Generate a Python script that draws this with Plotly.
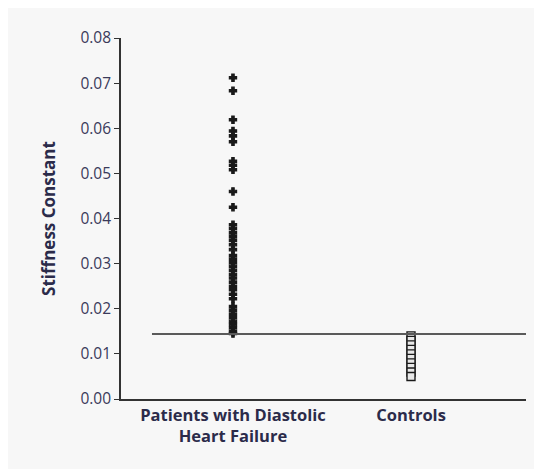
import plotly.graph_objects as go

categories = ["Patients with Diastolic<br>Heart Failure", "Controls"]
cat_pos = [1, 2]

patients = [0.0712, 0.0683, 0.0619, 0.0594, 0.0583, 0.0570, 0.0527, 0.0518, 0.0508,
            0.0460, 0.0425, 0.0386, 0.0378, 0.0369, 0.0361, 0.0352, 0.0342, 0.0331,
            0.0318, 0.0310, 0.0302, 0.0294, 0.0285, 0.0276, 0.0268, 0.0259, 0.0250,
            0.0242, 0.0232, 0.0222, 0.0205, 0.0197, 0.0188, 0.0180, 0.0172, 0.0165,
            0.0158, 0.0150, 0.0145]
controls = [0.0140, 0.0130, 0.0120, 0.0110, 0.0100, 0.0090, 0.0080, 0.0070,
            0.0060, 0.0050]
threshold = 0.0144

y_ticks = [0.00, 0.01, 0.02, 0.03, 0.04, 0.05, 0.06, 0.07, 0.08]
y_tick_text = ["%.2f" % v for v in y_ticks]

fig = go.Figure()
fig.add_trace(go.Scatter(
    x=[cat_pos[0]] * len(patients), y=patients, mode="markers",
    marker=dict(symbol="cross", size=6, color="#1a1a1a",
                line=dict(color="#1a1a1a", width=1.2)),
    showlegend=False, cliponaxis=False))
fig.add_trace(go.Scatter(
    x=[cat_pos[1]] * len(controls), y=controls, mode="markers",
    marker=dict(symbol="square", size=8, color="#e8e8e8",
                line=dict(color="#1a1a1a", width=1.4)),
    showlegend=False, cliponaxis=False))

# threshold line
fig.add_shape(type="line", xref="x", yref="y", x0=0.545, x1=2.646,
              y0=threshold, y1=threshold, line=dict(color="#5a5a5a", width=1.8))

font_fam = "Open Sans, sans-serif"
fig.update_layout(
    width=542, height=469,
    margin=dict(l=113, r=24, t=30, b=78),
    paper_bgcolor="#f7f7f7", plot_bgcolor="rgba(0,0,0,0)",
    font=dict(family=font_fam, color="#2b2b4a"),
    xaxis=dict(range=[0.371, 2.646], tickvals=cat_pos,
               ticktext=["<b>Patients with Diastolic</b><br><b>Heart Failure</b>", "<b>Controls</b>"],
               showgrid=False, zeroline=False, showline=True, linecolor="#333333",
               linewidth=1.6, ticks="", tickfont=dict(size=16.5, color="#2b2b4a")),
    yaxis=dict(range=[0, 0.08], tickvals=y_ticks, ticktext=y_tick_text,
               showgrid=False, zeroline=False, showline=True, linecolor="#333333",
               linewidth=1.6, ticks="outside", ticklen=5, tickcolor="#333333",
               tickwidth=1.4, tickfont=dict(size=15.5, color="#3a3a5a"),
               title=dict(text="<b>Stiffness Constant</b>", font=dict(size=17, color="#2b2b4a"),
                          standoff=20)),
)
fig.write_html("out.html")
